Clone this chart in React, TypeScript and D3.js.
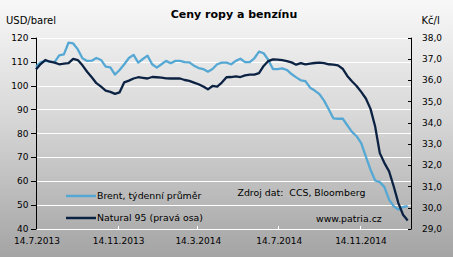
import React from "react";
import * as d3 from "d3";

const W = 453;
const H = 257;

const startDate = new Date(2013, 6, 14);
const endDate = new Date(2015, 0, 30);

const brent = [
  107.9, 109.7, 110.3, 110.0, 109.8, 112.6, 113.0, 117.9, 117.6, 115.1,
  111.4, 110.3, 110.4, 111.5, 110.7, 107.9, 107.6, 104.6, 106.5, 108.9,
  111.5, 112.8, 109.6, 111.1, 112.5, 108.9, 107.5, 108.9, 110.3, 109.3,
  110.3, 110.3, 109.8, 109.7, 108.3, 107.3, 106.9, 105.8, 106.9, 108.9,
  109.6, 109.6, 108.9, 110.3, 111.2, 109.8, 109.8, 111.4, 114.2, 113.5,
  110.7, 106.9, 106.9, 107.2, 106.5, 104.8, 103.4, 102.2, 101.8, 99.1,
  97.9, 96.4, 93.7, 90.1, 86.3, 86.1, 86.2, 83.4, 80.6, 78.8,
  75.9, 70.3, 64.8, 60.3, 59.6, 57.5, 52.3, 49.5, 48.1, 49.2,
  49.6,
];

const natural95 = [
  36.51, 36.76, 36.95, 36.87, 36.83, 36.75, 36.78, 36.8, 37.0, 36.95,
  36.7, 36.4, 36.14, 35.86, 35.7, 35.51, 35.45, 35.36, 35.43, 35.9,
  35.98, 36.08, 36.14, 36.11, 36.08, 36.15, 36.14, 36.12, 36.09, 36.08,
  36.09, 36.08, 36.01, 35.97, 35.89, 35.81, 35.7, 35.57, 35.73, 35.7,
  35.89, 36.14, 36.15, 36.18, 36.15, 36.23, 36.26, 36.26, 36.33, 36.67,
  36.9, 36.98, 36.97, 36.94, 36.9, 36.84, 36.73, 36.8, 36.75, 36.78,
  36.81, 36.83, 36.8, 36.75, 36.73, 36.7, 36.54, 36.2, 35.95, 35.73,
  35.45, 35.14, 34.65, 33.82, 32.57, 32.1, 31.71, 31.0, 30.22, 29.67,
  29.4,
];

const leftTicks = [40, 50, 60, 70, 80, 90, 100, 110, 120];
const rightTicks = [29, 30, 31, 32, 33, 34, 35, 36, 37, 38];
const xTickDates = [
  new Date(2013, 6, 14),
  new Date(2013, 10, 14),
  new Date(2014, 2, 14),
  new Date(2014, 6, 14),
  new Date(2014, 10, 14),
];
const xTickLabels = ["14.7.2013", "14.11.2013", "14.3.2014", "14.7.2014", "14.11.2014"];

const seriesNames = ["Brent, týdenní průměr", "Natural 95 (pravá osa)"];
const colors = ["#55a8d3", "#0c2243"];

const FONT = "'DejaVu Sans', Verdana, sans-serif";

export default function App() {
  const left = 36;
  const right = 411;
  const top = 37.7;
  const bottom = 229;

  const dates = brent.map((_, i) => d3.timeDay.offset(startDate, 7 * i));

  const x = d3.scaleTime().domain([startDate, endDate]).range([left, right]);
  const yL = d3.scaleLinear().domain([40, 120]).range([bottom, top]);
  const yR = d3.scaleLinear().domain([29, 38]).range([bottom, top]);

  const lineL = d3
    .line<number>()
    .x((_, i) => x(dates[i]))
    .y((d) => yL(d));
  const lineR = d3
    .line<number>()
    .x((_, i) => x(dates[i]))
    .y((d) => yR(d));

  const fmtR = (v: number) => v.toFixed(1).replace(".", ",");

  return (
    <svg
      width={W}
      height={H}
      style={{ position: "fixed", left: 0, top: 0, display: "block" }}
      fontFamily={FONT}
    >
      <defs>
        <linearGradient id="bg" x1="0" y1="0" x2="0" y2="1">
          <stop offset="0" stopColor="#f8f8f8" />
          <stop offset="0.45" stopColor="#d8d8d8" />
          <stop offset="1" stopColor="#a4a4a4" />
        </linearGradient>
      </defs>
      <rect x={0} y={0} width={W} height={H} fill="url(#bg)" />

      {/* gridlines */}
      {leftTicks.map((t) => (
        <line
          key={"g" + t}
          x1={left}
          x2={right}
          y1={Math.round(yL(t)) + 0.5}
          y2={Math.round(yL(t)) + 0.5}
          stroke="#ffffff"
          strokeWidth={1}
        />
      ))}

      {/* x tick marks */}
      {xTickDates.map((d, i) => (
        <line
          key={"xt" + i}
          x1={Math.round(x(d)) + 0.5}
          x2={Math.round(x(d)) + 0.5}
          y1={bottom}
          y2={bottom - 3}
          stroke="#ffffff"
          strokeWidth={1}
        />
      ))}

      {/* left axis */}
      <line x1={left + 0.5} x2={left + 0.5} y1={top} y2={bottom + 0.5} stroke="#000" strokeWidth={1} />
      {leftTicks.map((t) => (
        <g key={"l" + t}>
          <line
            x1={left - 5}
            x2={left}
            y1={Math.round(yL(t)) + 0.5}
            y2={Math.round(yL(t)) + 0.5}
            stroke="#000"
            strokeWidth={1}
          />
          <text x={28.5} y={yL(t)} dy="0.35em" textAnchor="end" fontSize={9} fill="#000">
            {t}
          </text>
        </g>
      ))}

      {/* right axis */}
      <line x1={right + 0.5} x2={right + 0.5} y1={top} y2={bottom + 0.5} stroke="#000" strokeWidth={1} />
      {rightTicks.map((t) => (
        <g key={"r" + t}>
          <line
            x1={right - 3}
            x2={right}
            y1={Math.round(yR(t)) + 0.5}
            y2={Math.round(yR(t)) + 0.5}
            stroke="#000"
            strokeWidth={1}
          />
          <text x={422} y={yR(t)} dy="0.35em" textAnchor="start" fontSize={9} fill="#000">
            {fmtR(t)}
          </text>
        </g>
      ))}

      {/* x labels */}
      {xTickDates.map((d, i) => (
        <text key={"xl" + i} x={x(d) + 1} y={244} textAnchor="middle" fontSize={9} fill="#000">
          {xTickLabels[i]}
        </text>
      ))}

      {/* series */}
      <path d={lineL(brent) || ""} fill="none" stroke={colors[0]} strokeWidth={2.3} strokeLinejoin="round" />
      <path d={lineR(natural95) || ""} fill="none" stroke={colors[1]} strokeWidth={2.3} strokeLinejoin="round" />

      {/* title and units */}
      <text x={234} y={18} textAnchor="middle" fontSize={11} fontWeight="bold" fill="#000">
        Ceny ropy a benzínu
      </text>
      <text x={6} y={23.5} fontSize={10} fill="#000">
        USD/barel
      </text>
      <text x={421.5} y={23.5} fontSize={10} fill="#000">
        Kč/l
      </text>

      {/* legend */}
      <line x1={66} x2={96} y1={196} y2={196} stroke={colors[0]} strokeWidth={2.5} />
      <text x={97} y={199.3} fontSize={9.4} fill="#000">
        {seriesNames[0]}
      </text>
      <line x1={66} x2={96} y1={218} y2={218} stroke={colors[1]} strokeWidth={2.5} />
      <text x={97} y={221.3} fontSize={9.4} fill="#000">
        {seriesNames[1]}
      </text>

      {/* source */}
      <text x={237.5} y={195.5} fontSize={9.4} fill="#000" xmlSpace="preserve">
        {"Zdroj dat:  CCS, Bloomberg"}
      </text>
      <text x={316} y={222} fontSize={9.4} fill="#000">
        www.patria.cz
      </text>
    </svg>
  );
}
